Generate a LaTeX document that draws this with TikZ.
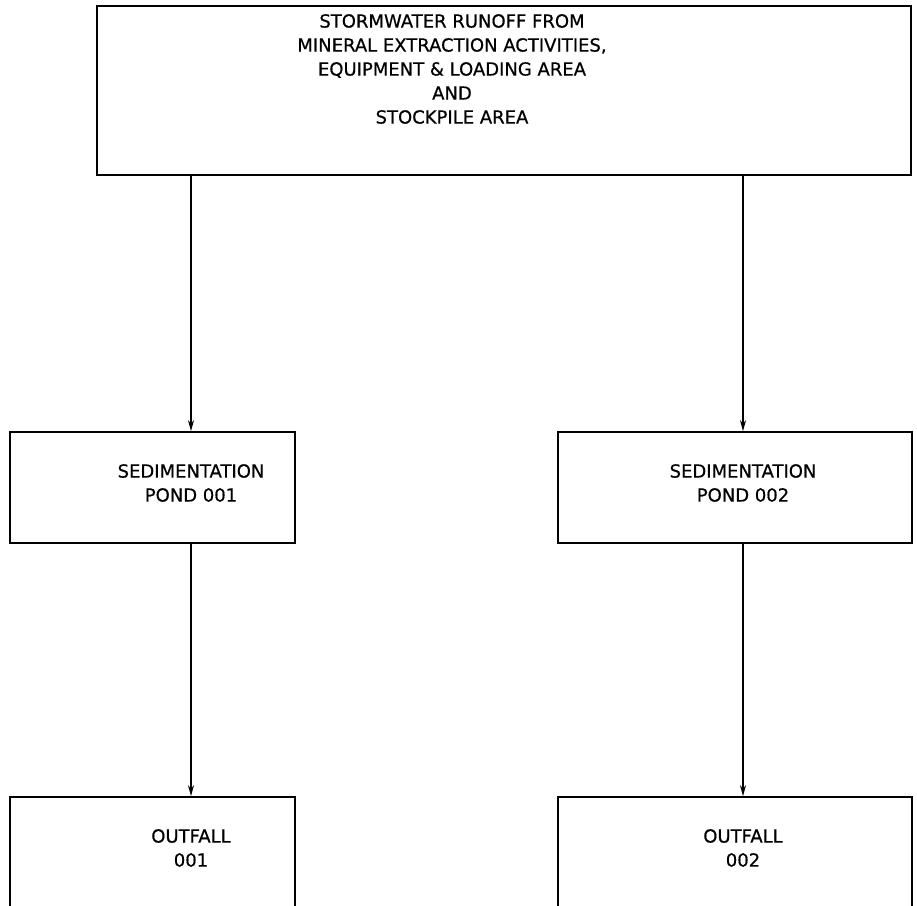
\documentclass[tikz,border=0pt]{standalone}
\usepackage{fontspec}
\setmainfont{DejaVu Sans}[FakeBold=0.6]
\usetikzlibrary{arrows.meta, positioning}

\begin{document}
\begin{tikzpicture}[x=1pt, y=-1pt,
  >={Stealth[length=11pt, width=6pt]},
  flowbox/.style 2 args={
    draw, line width=1.7pt, inner sep=0pt,
    minimum width=#1, minimum height=#2
  },
  boxtext/.style={font=\fontsize{18}{24}\selectfont, align=center, inner sep=0pt},
  arr/.style={->, line width=1.4pt},
]

% Page frame
\useasboundingbox (0,0) rectangle (917,905);
\clip (0,0) rectangle (917,905);

% =============================================
% Source (top)
% =============================================
\node[flowbox={814pt}{169pt}] (src) at (504,90.5) {};
\node[boxtext] (srctxt) at (452,69)
  {STORMWATER RUNOFF FROM\\
   MINERAL EXTRACTION ACTIVITIES,\\
   EQUIPMENT \& LOADING AREA\\
   AND\\
   STOCKPILE AREA};

% =============================================
% Sedimentation ponds
% =============================================
\node[flowbox={285pt}{111pt}] (pond1) at (152.5,487.5) {};
\node[boxtext] (pond1txt) at (191,483)
  {SEDIMENTATION\\ POND 001};

\node[flowbox={354pt}{111pt}] (pond2) at (735,487.5) {};
\node[boxtext] (pond2txt) at (743,483)
  {SEDIMENTATION\\ POND 002};

% =============================================
% Outfalls (bottom, cut by page edge)
% =============================================
\node[flowbox={285pt}{123pt}] (out1) at (152.5,858.5) {};
\node[boxtext] (out1txt) at (191,848)
  {OUTFALL\\ 001};

\node[flowbox={354pt}{123pt}] (out2) at (735,858.5) {};
\node[boxtext] (out2txt) at (743,848)
  {OUTFALL\\ 002};

% Arrows
\draw[arr] (src.south -| pond1txt) -- (pond1.north -| pond1txt);
\draw[arr] (src.south -| pond2txt) -- (pond2.north -| pond2txt);
\draw[arr] (pond1.south -| out1txt) -- (out1.north -| out1txt);
\draw[arr] (pond2.south -| out2txt) -- (out2.north -| out2txt);

\end{tikzpicture}
\end{document}
